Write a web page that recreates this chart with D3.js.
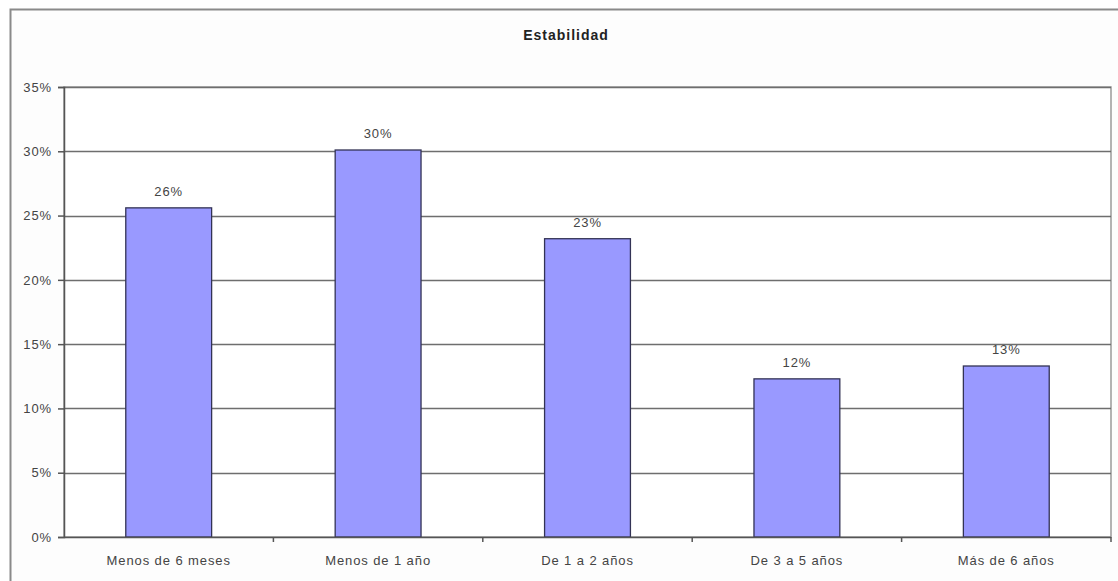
<!DOCTYPE html>
<html><head><meta charset="utf-8">
<script src="https://cdn.jsdelivr.net/npm/d3@7"></script>
<style>body{margin:0;background:#fff;}svg{display:block;font-family:"Liberation Sans",Arial,sans-serif;}</style>
</head><body>
<svg id="c" width="1118" height="581"></svg>
<script>
const categories = ["Menos de 6 meses","Menos de 1 año","De 1 a 2 años","De 3 a 5 años","Más de 6 años"];
const values = [0.256, 0.301, 0.232, 0.123, 0.133];
const valueLabels = ["26%","30%","23%","12%","13%"];
const yTicks = [0,0.05,0.10,0.15,0.20,0.25,0.30,0.35];
const title = "Estabilidad";

const svg = d3.select("#c");
svg.append("rect").attr("x",10.5).attr("y",9.5).attr("width",1120).attr("height",600)
  .attr("fill","#fdfdfd").attr("stroke","#8a8a8a").attr("stroke-width",2);

const m = {left:64, right:1111, top:87, bottom:537};
const x = d3.scaleBand().domain(categories).range([m.left,m.right]).paddingInner(0.59).paddingOuter(0.295);
const xb = d3.scaleBand().domain(categories).range([m.left,m.right]);
const y = d3.scaleLinear().domain([0,0.35]).range([m.bottom,m.top]);

svg.append("rect").attr("x",m.left).attr("y",m.top).attr("width",m.right-m.left).attr("height",m.bottom-m.top)
  .attr("fill","#fff").attr("stroke","#9a9a9a").attr("stroke-width",1.5);

svg.append("g").selectAll("line").data(yTicks.filter(d=>d>0)).join("line")
  .attr("x1",m.left).attr("x2",m.right).attr("y1",d=>Math.round(y(d))+0.5).attr("y2",d=>Math.round(y(d))+0.5)
  .attr("stroke","#6e6e6e").attr("stroke-width",1.5);

svg.append("g").selectAll("rect").data(values).join("rect")
  .attr("x",(d,i)=>x(categories[i])).attr("width",x.bandwidth())
  .attr("y",d=>y(d)).attr("height",d=>m.bottom-y(d))
  .attr("fill","#9999ff").attr("stroke","#333355").attr("stroke-width",1.3);

const txt = sel => sel.attr("font-size",13).attr("letter-spacing",0.9).attr("fill","#444")
  .attr("font-family","Liberation Sans, Arial, sans-serif");

svg.append("g").selectAll("text").data(values).join("text")
  .attr("x",(d,i)=>x(categories[i])+x.bandwidth()/2).attr("y",d=>y(d)-12)
  .attr("text-anchor","middle").call(txt)
  .text((d,i)=>valueLabels[i]);

const ya = d3.axisLeft(y).tickValues(yTicks).tickFormat(d3.format(".0%")).tickSize(6).tickPadding(6);
const yg = svg.append("g").attr("transform",`translate(${m.left},0)`).call(ya);
yg.select(".domain").attr("stroke","#555").attr("stroke-width",1.5);
yg.selectAll(".tick line").attr("stroke","#555").attr("stroke-width",1.5);
yg.selectAll("text").call(txt);

svg.append("line").attr("x1",m.left).attr("x2",m.right).attr("y1",m.bottom+0.5).attr("y2",m.bottom+0.5)
  .attr("stroke","#555").attr("stroke-width",1.5);
svg.append("g").selectAll("line").data(categories).join("line")
  .attr("x1",(d,i)=>m.left+xb.step()*(i+1)).attr("x2",(d,i)=>m.left+xb.step()*(i+1))
  .attr("y1",m.bottom).attr("y2",m.bottom+5).attr("stroke","#555").attr("stroke-width",1.5);

svg.append("g").selectAll("text").data(categories).join("text")
  .attr("x",d=>xb(d)+xb.bandwidth()/2).attr("y",565)
  .attr("text-anchor","middle").call(txt).text(d=>d);

svg.append("text").attr("x",566).attr("y",40).attr("text-anchor","middle")
  .attr("font-size",14).attr("letter-spacing",1).attr("font-weight","bold").attr("fill","#222").text(title);
</script>
</body></html>
